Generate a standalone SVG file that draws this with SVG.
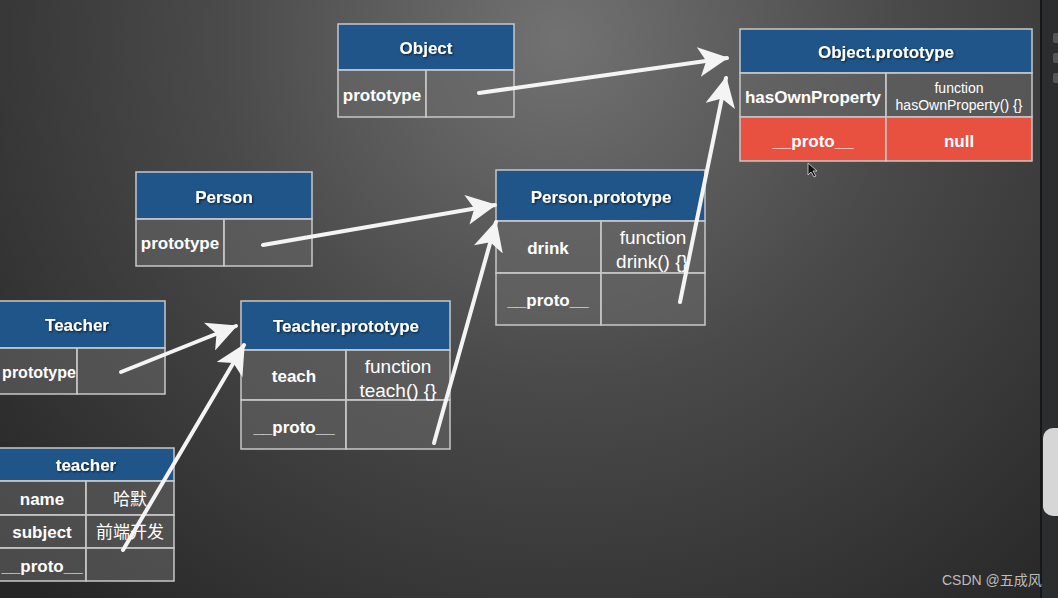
<svg xmlns="http://www.w3.org/2000/svg" width="1058" height="598" viewBox="0 0 1058 598">
<defs>
<radialGradient id="bg" cx="560" cy="40" r="760" gradientUnits="userSpaceOnUse">
<stop offset="0" stop-color="#727272"/>
<stop offset="0.45" stop-color="#4a4a4a"/>
<stop offset="1" stop-color="#262626"/>
</radialGradient>
<marker id="ah" viewBox="0 0 10 10" refX="9.5" refY="5" markerWidth="7.5" markerHeight="7.5" markerUnits="strokeWidth" orient="auto">
<path d="M0,0 L10,5 L0,10 L2.5,5 Z" fill="#f4f4f4"/>
</marker>
<filter id="sh" x="-10%" y="-30%" width="120%" height="160%">
<feDropShadow dx="1" dy="1" stdDeviation="1" flood-color="#000" flood-opacity="0.7"/>
</filter>
</defs>
<style>
.hd{fill:#1f5589;stroke:#c8c8c8;stroke-width:1.5}
.cl{fill:#6a6a6a;fill-opacity:0.55;stroke:#c8c8c8;stroke-width:1.5}
.rd{fill:#e8503f;stroke:#c8c8c8;stroke-width:1.5}
.t{font-family:"Liberation Sans",Arial,sans-serif;fill:#ffffff;text-anchor:middle}
.b{font-weight:bold;font-size:17px}
.n{font-size:19px}
.s{font-size:14px}
.cn{font-family:"Noto Sans CJK SC",sans-serif;font-size:17px;fill:#fff;text-anchor:middle}
.ar{stroke:#f4f4f4;stroke-width:4;fill:none;stroke-linecap:round;marker-end:url(#ah)}
</style>
<rect width="1058" height="598" fill="url(#bg)"/>
<g id="sidebar">
<rect x="1040" y="0" width="18" height="598" fill="#2c2d2e"/>
<line x1="1041" y1="0" x2="1041" y2="598" stroke="#111" stroke-width="1.5"/>
<rect x="1053" y="33" width="8" height="10" rx="2" fill="#555"/>
<rect x="1053" y="53" width="8" height="10" rx="2" fill="#555"/>
<rect x="1053" y="73" width="8" height="10" rx="2" fill="#555"/>
<rect x="1043" y="428" width="30" height="88" rx="10" fill="#d6d6d6"/>
</g>
<g id="object">
<rect class="hd" x="338" y="24" width="176" height="46"/>
<rect class="cl" x="338" y="70" width="88" height="47"/>
<rect class="cl" x="426" y="70" width="88" height="47"/>
<text class="t b" x="426" y="54" filter="url(#sh)">Object</text>
<text class="t b" x="382" y="101">prototype</text>
</g>
<g id="object-prototype">
<rect class="hd" x="740" y="29" width="292" height="44"/>
<rect class="cl" x="740" y="73" width="146" height="44"/>
<rect class="cl" x="886" y="73" width="146" height="44"/>
<rect class="rd" x="740" y="117" width="146" height="44"/>
<rect class="rd" x="886" y="117" width="146" height="44"/>
<text class="t b" x="886" y="58" filter="url(#sh)">Object.prototype</text>
<text class="t b" x="813" y="103">hasOwnProperty</text>
<text class="t s" x="959" y="93">function</text>
<text class="t s" x="959" y="110">hasOwnProperty() {}</text>
<text class="t b" x="813" y="147">__proto__</text>
<text class="t b" x="959" y="147">null</text>
</g>
<g id="person">
<rect class="hd" x="136" y="172" width="176" height="47"/>
<rect class="cl" x="136" y="219" width="88" height="47"/>
<rect class="cl" x="224" y="219" width="88" height="47"/>
<text class="t b" x="224" y="203" filter="url(#sh)">Person</text>
<text class="t b" x="180" y="249">prototype</text>
</g>
<g id="person-prototype">
<rect class="hd" x="496" y="170" width="209" height="51"/>
<rect class="cl" x="496" y="221" width="105" height="52"/>
<rect class="cl" x="601" y="221" width="104" height="52"/>
<rect class="cl" x="496" y="273" width="105" height="52"/>
<rect class="cl" x="601" y="273" width="104" height="52"/>
<text class="t b" x="601" y="203" filter="url(#sh)">Person.prototype</text>
<text class="t b" x="548" y="254">drink</text>
<text class="t n" x="653" y="244">function</text>
<text class="t n" x="652" y="268">drink() {}</text>
<text class="t b" x="548" y="306">__proto__</text>
</g>
<g id="teacher-ctor">
<rect class="hd" x="-10" y="301" width="175" height="47"/>
<rect class="cl" x="-10" y="348" width="87" height="46"/>
<rect class="cl" x="77" y="348" width="88" height="46"/>
<text class="t b" x="77" y="331" filter="url(#sh)">Teacher</text>
<text class="t" x="39" y="378" font-weight="bold" font-size="16">prototype</text>
</g>
<g id="teacher-prototype">
<rect class="hd" x="241" y="301" width="209" height="49"/>
<rect class="cl" x="241" y="350" width="105" height="50"/>
<rect class="cl" x="346" y="350" width="104" height="50"/>
<rect class="cl" x="241" y="400" width="105" height="49"/>
<rect class="cl" x="346" y="400" width="104" height="49"/>
<text class="t b" x="346" y="332" filter="url(#sh)">Teacher.prototype</text>
<text class="t b" x="294" y="382">teach</text>
<text class="t n" x="398" y="373">function</text>
<text class="t n" x="398" y="397">teach() {}</text>
<text class="t b" x="294" y="433">__proto__</text>
</g>
<g id="teacher">
<rect class="hd" x="-10" y="448" width="184" height="33"/>
<rect class="cl" x="-10" y="481" width="96" height="34"/>
<rect class="cl" x="86" y="481" width="88" height="34"/>
<rect class="cl" x="-10" y="515" width="96" height="33"/>
<rect class="cl" x="86" y="515" width="88" height="33"/>
<rect class="cl" x="-10" y="548" width="96" height="33"/>
<rect class="cl" x="86" y="548" width="88" height="33"/>
<text class="t b" x="86" y="471" filter="url(#sh)">teacher</text>
<text class="t b" x="42" y="505">name</text>
<text class="cn" x="130" y="505">哈默</text>
<text class="t b" x="42" y="538">subject</text>
<text class="cn" x="130" y="538">前端开发</text>
<text class="t b" x="42" y="572">__proto__</text>
</g>
<g id="connectors">
<line class="ar" x1="479" y1="93" x2="727" y2="58"/>
<line class="ar" x1="680" y1="302" x2="726" y2="78"/>
<line class="ar" x1="263" y1="245" x2="495" y2="205"/>
<line class="ar" x1="434" y1="443" x2="496" y2="222"/>
<line class="ar" x1="121" y1="372" x2="236" y2="326"/>
<line class="ar" x1="123" y1="550" x2="244" y2="345"/>
</g>
<g id="cursor">
<path d="M808,163 L808,175 L811,172 L814,177 L816,176 L813,171 L817,171 Z" fill="#111" stroke="#ddd" stroke-width="0.8"/>
</g>
<text x="942" y="585" font-family="Liberation Sans,Arial,Noto Sans CJK SC,sans-serif" font-size="14" fill="#bdbdbd">CSDN @五成风</text>
</svg>
